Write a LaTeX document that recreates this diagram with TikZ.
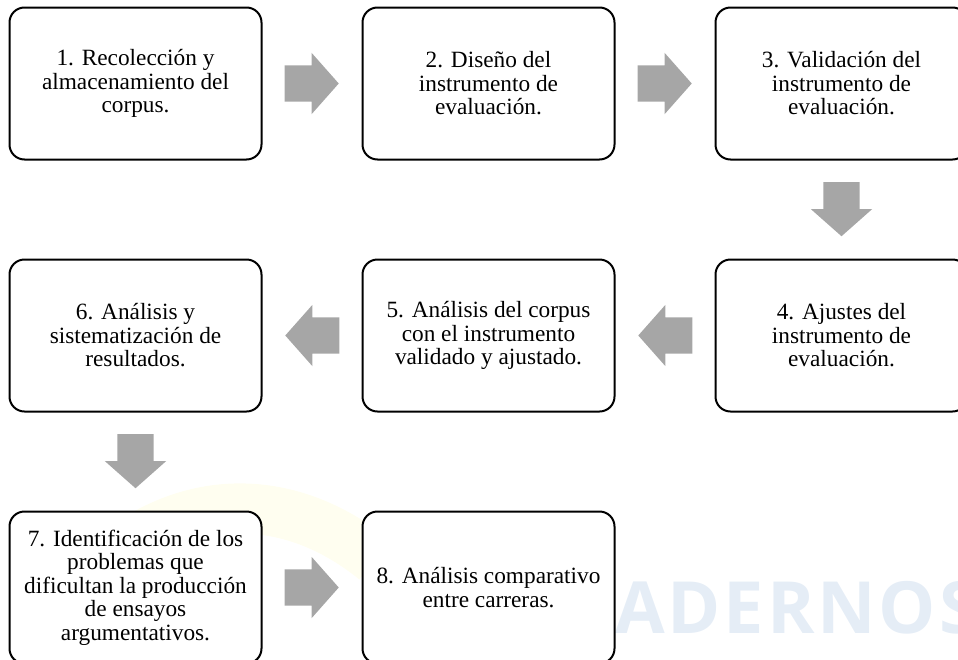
\documentclass[tikz,border=0pt]{standalone}
\usepackage{fontspec}
\setmainfont{Liberation Serif}
\newfontfamily\markfont[LetterSpace=4]{Open Sans}
\usepackage{tikz}
\usepackage{xcolor}
\usetikzlibrary{positioning,shapes.arrows,calc}
\definecolor{arrowgray}{RGB}{166,166,166}
\definecolor{markblue}{RGB}{229,237,246}
\definecolor{markyellow}{RGB}{255,254,240}

\begin{document}
\begin{tikzpicture}%
  [x=1pt,y=-1pt,node distance=100pt and 101pt]
  \tikzstyle{step node}=[rectangle,draw=black,line width=2pt,rounded corners=15pt,
    fill=white,minimum width=252pt,minimum height=152pt,outer sep=0pt,inner sep=2pt,
    align=center,font=\fontsize{23.3}{23.5}\selectfont]
  \tikzstyle{arrow node}=[single arrow,fill=arrowgray,draw=none,anchor=tip,
    inner xsep=0pt,inner ysep=18pt,minimum height=54pt,
    single arrow head extend=12.5pt,single arrow tip angle=97]
  \useasboundingbox (0,0) rectangle (958,659);
  \clip (0,0) rectangle (958,659);
  % faint logo behind the steps
  \draw[markyellow,line width=50pt] (135,540) .. controls (205,495) and (295,495) .. (375,560);
  \node(mark)[anchor=base west,inner sep=0pt,text=markblue,
    font=\markfont\bfseries\fontsize{72}{72}\selectfont] at (615,633) {ADERNOS};
  % steps
  \node(1)[step node] at (135.5,83.5) {1. Recolección y\\almacenamiento del\\corpus.};
  \node(2)[step node,right=of 1] {2. Diseño del\\instrumento de\\evaluación.};
  \node(3)[step node,right=of 2] {3. Validación del\\instrumento de\\evaluación.};
  \node(4)[step node,below=of 3] {4. Ajustes del\\instrumento de\\evaluación.};
  \node(5)[step node,left=of 4] {5. Análisis del corpus\\con el instrumento\\validado y ajustado.};
  \node(6)[step node,left=of 5] {6. Análisis y\\sistematización de\\resultados.};
  \node(7)[step node,below=of 6] {7. Identificación de los\\problemas que\\dificultan la producción\\de ensayos\\argumentativos.};
  \node(8)[step node,right=of 7] {8. Análisis comparativo\\entre carreras.};
  % arrows, tip 27pt past the middle of each gap
  \foreach \a/\b/\r in {1/2/0,2/3/0,3/4/-90,4/5/180,5/6/180,6/7/-90,7/8/0}
    \node(\a\b)[arrow node,rotate=\r] at ($($(\a)!0.5!(\b)$)!27pt!(\b)$) {};
\end{tikzpicture}
\end{document}
